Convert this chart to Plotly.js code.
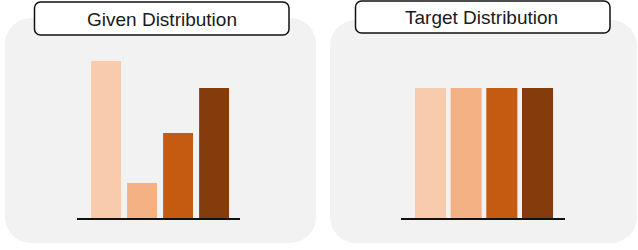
<!DOCTYPE html>
<html>
<head>
<meta charset="utf-8">
<script src="https://cdn.plot.ly/plotly-3.0.1.min.js"></script>
<style>html,body{margin:0;padding:0;background:#fff;}#chart{width:638px;height:250px;}</style>
</head>
<body>
<div id="chart"></div>
<script>
// ---- data ----
const categories = [0, 1, 2, 3];
const givenValues = [157, 35, 85, 130];
const targetValues = [130, 130, 130, 130];
const barColors = ['#F8CBAD', '#F4B183', '#C55A11', '#843C0C'];
const panelTitles = ['Given Distribution', 'Target Distribution'];

// ---- helpers (styling only) ----
const W = 638, H = 250;
const px = x => x / W;
const py = y => 1 - y / H;
function roundRect(x0, y0, x1, y1, r) {
  const P = (x, y) => px(x) + ',' + py(y);
  const k = 0.5523 * r;
  return 'M' + P(x0 + r, y0) +
    ' L' + P(x1 - r, y0) +
    ' C' + P(x1 - r + k, y0) + ' ' + P(x1, y0 + r - k) + ' ' + P(x1, y0 + r) +
    ' L' + P(x1, y1 - r) +
    ' C' + P(x1, y1 - r + k) + ' ' + P(x1 - r + k, y1) + ' ' + P(x1 - r, y1) +
    ' L' + P(x0 + r, y1) +
    ' C' + P(x0 + r - k, y1) + ' ' + P(x0, y1 - r + k) + ' ' + P(x0, y1 - r) +
    ' L' + P(x0, y0 + r) +
    ' C' + P(x0, y0 + r - k) + ' ' + P(x0 + r - k, y0) + ' ' + P(x0 + r, y0) + ' Z';
}

const traces = [
  {type: 'bar', x: categories, y: givenValues, width: 0.83,
   marker: {color: barColors, line: {width: 0}}, xaxis: 'x', yaxis: 'y', hoverinfo: 'skip'},
  {type: 'bar', x: categories, y: targetValues, width: 0.87,
   marker: {color: barColors, line: {width: 0}}, xaxis: 'x2', yaxis: 'y2', hoverinfo: 'skip'}
];

const hiddenY = {showgrid: false, zeroline: false, showticklabels: false, showline: false, ticks: ''};
const baseX = {showgrid: false, zeroline: false, showticklabels: false, ticks: '',
  showline: true, linecolor: '#111', linewidth: 2, fixedrange: true};

const layout = {
  width: W, height: H,
  margin: {l: 0, r: 0, t: 0, b: 0},
  paper_bgcolor: '#ffffff', plot_bgcolor: 'rgba(0,0,0,0)',
  showlegend: false,
  xaxis: Object.assign({}, baseX, {domain: [px(77), px(240)], range: [-0.806, 3.72], anchor: 'y'}),
  yaxis: Object.assign({}, hiddenY, {domain: [py(218), py(61)], range: [0, 157], anchor: 'x'}),
  xaxis2: Object.assign({}, baseX, {domain: [px(401), px(565)], range: [-0.826, 3.77], anchor: 'y2'}),
  yaxis2: Object.assign({}, hiddenY, {domain: [py(218), py(61)], range: [0, 157], anchor: 'x2'}),
  shapes: [
    {type: 'path', xref: 'paper', yref: 'paper', layer: 'below',
     path: roundRect(5, 18, 316, 243, 26), fillcolor: '#F2F2F2', line: {width: 0}},
    {type: 'path', xref: 'paper', yref: 'paper', layer: 'below',
     path: roundRect(330, 20, 637, 243, 26), fillcolor: '#F2F2F2', line: {width: 0}},
    {type: 'path', xref: 'paper', yref: 'paper', layer: 'above',
     path: roundRect(34.5, 2, 289, 35, 6), fillcolor: '#ffffff', line: {color: '#111', width: 1.5}},
    {type: 'path', xref: 'paper', yref: 'paper', layer: 'above',
     path: roundRect(355.5, 1, 610, 33, 6), fillcolor: '#ffffff', line: {color: '#111', width: 1.5}}
  ],
  annotations: [
    {xref: 'paper', yref: 'paper', x: px(161.5), y: py(19.5), text: panelTitles[0], showarrow: false,
     xanchor: 'center', yanchor: 'middle', font: {family: 'Liberation Sans, Arial, sans-serif', size: 19, color: '#1a1a1a'}},
    {xref: 'paper', yref: 'paper', x: px(482), y: py(17), text: panelTitles[1], showarrow: false,
     xanchor: 'center', yanchor: 'middle', font: {family: 'Liberation Sans, Arial, sans-serif', size: 19, color: '#1a1a1a'}}
  ]
};

Plotly.newPlot('chart', traces, layout, {staticPlot: true, displayModeBar: false});
</script>
</body>
</html>
